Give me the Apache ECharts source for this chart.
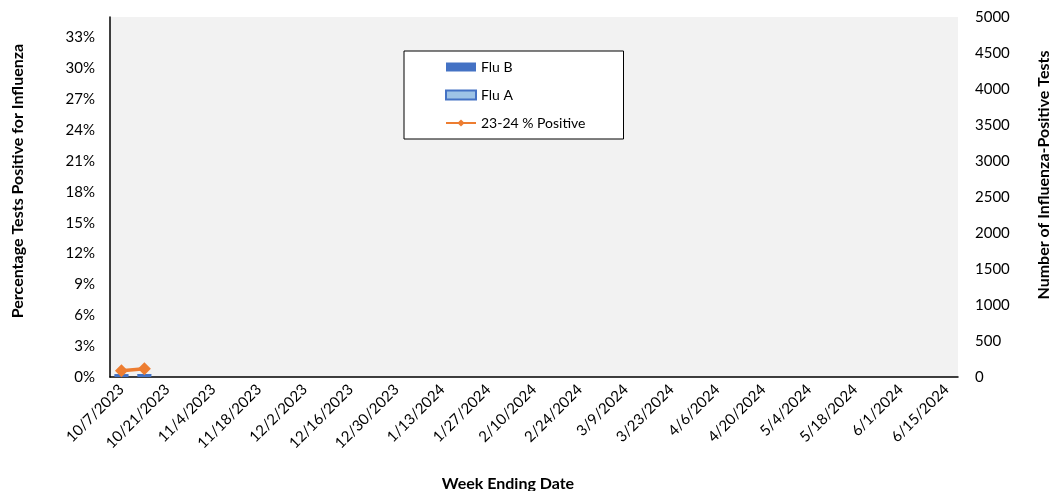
<!DOCTYPE html>
<html>
<head>
<meta charset="utf-8">
<script src="https://cdn.jsdelivr.net/npm/echarts@6/dist/echarts.min.js"></script>
<style>
html,body{margin:0;padding:0;background:#fff;}
#chart{width:1054px;height:491px;}
</style>
</head>
<body>
<div id="chart"></div>
<script>
// Week ending dates (37 weeks)
const weeks = [
  '10/7/2023','10/14/2023','10/21/2023','10/28/2023','11/4/2023','11/11/2023','11/18/2023','11/25/2023',
  '12/2/2023','12/9/2023','12/16/2023','12/23/2023','12/30/2023','1/6/2024','1/13/2024','1/20/2024',
  '1/27/2024','2/3/2024','2/10/2024','2/17/2024','2/24/2024','3/2/2024','3/9/2024','3/16/2024',
  '3/23/2024','3/30/2024','4/6/2024','4/13/2024','4/20/2024','4/27/2024','5/4/2024','5/11/2024',
  '5/18/2024','5/25/2024','6/1/2024','6/8/2024','6/15/2024'
];
const fluB = [30, 32];
const fluA = [2, 3];
const pctPositive = [0.6, 0.8];

const pad = (arr) => weeks.map((_, i) => (i < arr.length ? arr[i] : null));

const FONT = 'Lato';
const chart = echarts.init(document.getElementById('chart'));
chart.setOption({
  animation: false,
  textStyle: { fontFamily: FONT },
  grid: {
    left: 110, right: 96, top: 17, bottom: 114,
    show: true, backgroundColor: '#f2f2f2', borderWidth: 0
  },
  legend: {
    orient: 'vertical',
    left: 404, top: 51,
    padding: [9, 38, 9, 41],
    itemGap: 14,
    itemWidth: 30, itemHeight: 9,
    backgroundColor: '#ffffff',
    borderColor: '#000000', borderWidth: 1,
    textStyle: { fontFamily: FONT, fontSize: 14, color: '#000' },
    data: [
      { name: 'Flu B', icon: 'rect' },
      { name: 'Flu A', icon: 'rect' },
      { name: '23-24 % Positive' }
    ]
  },
  xAxis: {
    type: 'category',
    data: weeks,
    axisLine: { show: true, lineStyle: { color: '#000', width: 1.5 } },
    axisTick: { show: false },
    axisLabel: {
      interval: 1, rotate: 45, margin: 10,
      fontFamily: FONT, fontSize: 15, color: '#000'
    }
  },
  yAxis: [
    {
      type: 'value', min: 0, max: 35, interval: 3,
      position: 'left',
      axisLine: { show: true, lineStyle: { color: '#000', width: 1.5 } },
      axisTick: { show: false },
      splitLine: { show: false },
      axisLabel: {
        showMaxLabel: false, margin: 15,
        fontFamily: FONT, fontSize: 15, color: '#000',
        formatter: (v) => (v % 3 === 0 ? v + '%' : '')
      }
    },
    {
      type: 'value', min: 0, max: 5000, interval: 500,
      position: 'right',
      axisLine: { show: false },
      axisTick: { show: false },
      splitLine: { show: false },
      axisLabel: { margin: 17, fontFamily: FONT, fontSize: 15, color: '#000', formatter: (v) => String(v) }
    }
  ],
  series: [
    {
      name: 'Flu B', type: 'bar', yAxisIndex: 1, stack: 'flu',
      barWidth: '61%',
      itemStyle: { color: '#4472C4' },
      data: pad(fluB)
    },
    {
      name: 'Flu A', type: 'bar', yAxisIndex: 1, stack: 'flu',
      barWidth: '61%',
      itemStyle: { color: '#9DC3E6', borderColor: '#4472C4', borderWidth: 1 },
      data: pad(fluA)
    },
    {
      name: '23-24 % Positive', type: 'line', yAxisIndex: 0,
      symbol: 'diamond', symbolSize: 13,
      lineStyle: { color: '#ED7D31', width: 3.5 },
      itemStyle: { color: '#ED7D31' },
      data: pad(pctPositive)
    }
  ],
  graphic: [
    {
      type: 'text',
      style: { text: 'Percentage Tests Positive for Influenza', font: 'bold 16px ' + FONT, fill: '#000', textAlign: 'center', textVerticalAlign: 'middle' },
      x: 18, y: 181, rotation: Math.PI / 2
    },
    {
      type: 'text',
      style: { text: 'Number of Influenza-Positive Tests', font: 'bold 16px ' + FONT, fill: '#000', textAlign: 'center', textVerticalAlign: 'middle' },
      x: 1044, y: 175, rotation: Math.PI / 2
    },
    {
      type: 'text',
      style: { text: 'Week Ending Date', font: 'bold 16px ' + FONT, fill: '#000', textAlign: 'center', textVerticalAlign: 'middle' },
      x: 508, y: 484
    }
  ]
});
</script>
</body>
</html>
